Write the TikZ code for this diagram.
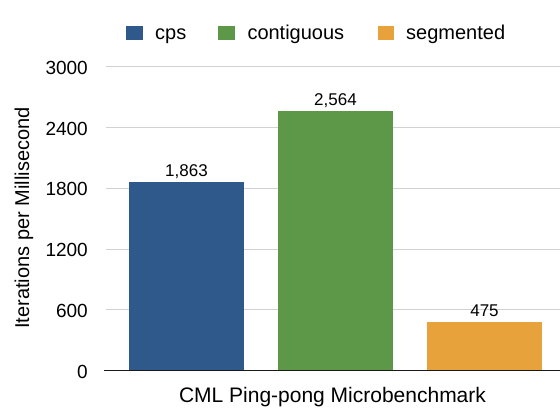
\documentclass[tikz,border=0pt]{standalone}
\usepackage{fontspec}
\setmainfont{Liberation Sans}
\definecolor{cpsblue}{RGB}{46,89,138}
\definecolor{contgreen}{RGB}{93,152,73}
\definecolor{segorange}{RGB}{232,162,60}
\definecolor{gridgray}{RGB}{210,210,210}
\definecolor{axisblack}{RGB}{25,25,25}
\begin{document}
\begin{tikzpicture}[x=1pt,y=1pt,
  ticklabel/.style={anchor=east,inner sep=0pt,font=\fontsize{19}{19}\selectfont},
  vallabel/.style={anchor=base,inner sep=0pt,font=\fontsize{17}{17}\selectfont},
  legtext/.style={anchor=base west,inner sep=0pt,font=\fontsize{20}{20}\selectfont},
  legkey/.style={minimum width=16.5pt,minimum height=14pt,inner sep=0pt,anchor=south west},
  titletext/.style={inner sep=0pt,font=\fontsize{20}{20}\selectfont},
  gridline/.style={draw=gridgray,line width=1pt},
]
\useasboundingbox (0,0) rectangle (560,410);

% legend
\node[legkey,fill=cpsblue]   (kcps)  at (126,369.7) {};
\node[legtext]               (tcps)  at (155,370) {cps};
\node[legkey,fill=contgreen] (kcont) at (218,369.7) {};
\node[legtext]               (tcont) at (247.3,370) {contiguous};
\node[legkey,fill=segorange] (kseg)  at (377.5,369.7) {};
\node[legtext]               (tseg)  at (406,370) {segmented};

% plot area: value axis scaled so that 3000 spans the full height
\begin{scope}[shift={(0,39.5)},y=0.10117pt]
  \foreach \v/\n in {600/a,1200/b,1800/c,2400/d,3000/e}{
    \coordinate (gl\n) at (106,\v);
    \coordinate (gr\n) at (560,\v);
    \draw[gridline] (gl\n) -- (gr\n);
    \node[ticklabel] (tick\n) at (88,\v-10) {\v};
  }
  \node[ticklabel] (tick0) at (88,-10) {0};

  % bars
  \fill[cpsblue]   (129,0) rectangle (244,1863);
  \fill[contgreen] (278,0) rectangle (393,2564);
  \fill[segorange] (427,0) rectangle (542,475);

  \node[vallabel] (vcps)  at (186.5,1863) [yshift=6pt] {1,863};
  \node[vallabel] (vcont) at (335.5,2564) [yshift=6pt] {2,564};
  \node[vallabel] (vseg)  at (484.5,475)  [yshift=6pt] {475};

  % category axis
  \coordinate (axl) at (104,0);
  \coordinate (axr) at (560,0);
  \draw[axisblack,line width=1.5pt] (axl) -- (axr);
\end{scope}

% axis titles
\node[titletext,anchor=base,font=\fontsize{21}{21}\selectfont] (xtitle) at (332.5,8) {CML Ping-pong Microbenchmark};
\node[titletext,anchor=base,rotate=90] (ytitle) at (29,192) {Iterations per Millisecond};
\end{tikzpicture}
\end{document}
